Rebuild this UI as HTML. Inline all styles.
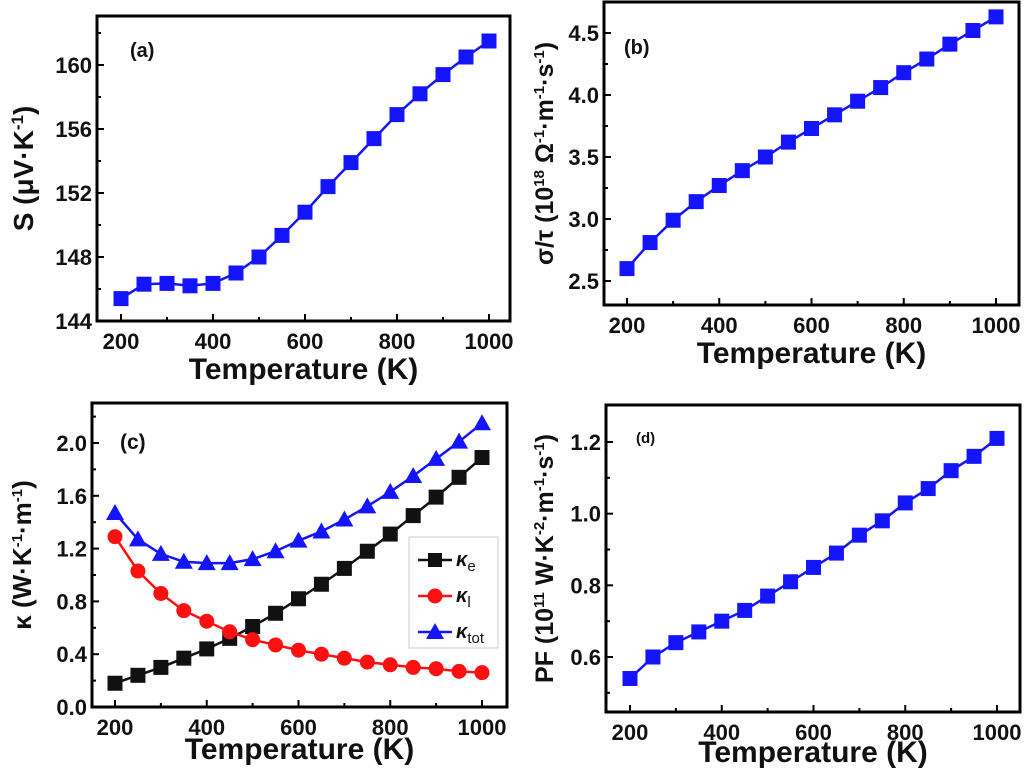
<!DOCTYPE html>
<html><head><meta charset="utf-8"><style>
html,body{margin:0;padding:0;background:#fff;}
svg text{font-family:"Liberation Sans",Arial,sans-serif;font-weight:bold;fill:#111;}
</style></head><body>
<svg id="fig" width="1024" height="771" viewBox="0 0 1024 771" xmlns="http://www.w3.org/2000/svg"></svg>
<script>
const temps=[200,250,300,350,400,450,500,550,600,650,700,750,800,850,900,950,1000];
const seebeck=[145.4,146.3,146.35,146.2,146.35,147.0,148.0,149.35,150.8,152.4,153.9,155.4,156.9,158.2,159.4,160.5,161.5];
const sigmaTau=[2.6,2.81,2.99,3.14,3.27,3.39,3.50,3.62,3.73,3.84,3.95,4.06,4.18,4.29,4.41,4.52,4.63];
const kappaE=[0.18,0.24,0.30,0.37,0.44,0.52,0.61,0.71,0.82,0.93,1.05,1.18,1.31,1.45,1.59,1.74,1.89];
const kappaL=[1.29,1.03,0.86,0.73,0.65,0.57,0.51,0.47,0.43,0.40,0.37,0.34,0.32,0.30,0.29,0.27,0.26];
const kappaTot=[1.47,1.27,1.16,1.10,1.09,1.09,1.12,1.18,1.26,1.33,1.42,1.52,1.63,1.75,1.88,2.01,2.15];
const powerFactor=[0.54,0.60,0.64,0.67,0.70,0.73,0.77,0.81,0.85,0.89,0.94,0.98,1.03,1.07,1.12,1.16,1.21];
const xTicks=[200,400,600,800,1000];
const aTicks=[144,148,152,156,160];
const bTicks=[2.5,3.0,3.5,4.0,4.5];
const cTicks=[0.0,0.4,0.8,1.2,1.6,2.0];
const dTicks=[0.6,0.8,1.0,1.2];

const NS="http://www.w3.org/2000/svg";
const svg=document.getElementById('fig');
function el(tag,attrs,parent){const e=document.createElementNS(NS,tag);for(const k in attrs)e.setAttribute(k,attrs[k]);(parent||svg).appendChild(e);return e;}

function panel(cfg){
  const g=el('g',{});
  
  
  const xs=v=>cfg.x200+(v-200)*(cfg.x1000-cfg.x200)/800;
  const ys=v=>cfg.yA+(v-cfg.vA)*(cfg.yB-cfg.yA)/(cfg.vB-cfg.vA);
  const fr=el('rect',{x:cfg.L,y:cfg.T,width:cfg.R-cfg.L,height:cfg.B-cfg.T,fill:'none',stroke:'#000','stroke-width':3},g);
  
  for(let v=200;v<=1000;v+=100){
    const major=v%200===0;const x=xs(v);
    el('line',{x1:x,x2:x,y1:cfg.B,y2:cfg.B-(major?7:4),stroke:'#000','stroke-width':2},g);
  }
  xTicks.forEach(v=>{
    const t=el('text',{x:xs(v),y:cfg.B+28,'text-anchor':'middle','font-size':22},g);
    t.textContent=v;
    
  });
  const step=cfg.ticks[1]-cfg.ticks[0];
  const lo=cfg.ticks[0]-step*5, hi=cfg.ticks[cfg.ticks.length-1]+step*5;
  for(let v=lo;v<=hi+1e-9;v+=step/2){
    const y=ys(v); if(y<cfg.T+2||y>cfg.B-1)continue;
    const major=cfg.ticks.some(t=>Math.abs(t-v)<1e-6);
    el('line',{x1:cfg.L,x2:cfg.L+(major?7:4),y1:y,y2:y,stroke:'#000','stroke-width':2},g);
  }
  cfg.ticks.forEach(v=>{
    const t=el('text',{x:cfg.L-5,y:ys(v)+8,'text-anchor':'end','font-size':22},g);
    t.textContent=cfg.fmt(v);
    
  });
  const xt=el('text',{x:(cfg.L+cfg.R)/2,y:cfg.B+cfg.xtOff,'text-anchor':'middle','font-size':30},g);
  xt.textContent='Temperature (K)';
  
  const yt=el('text',{transform:`translate(${cfg.ytx},${(cfg.T+cfg.B)/2}) rotate(-90)`,'text-anchor':'middle','font-size':cfg.ytSize||27},g);
  yt.innerHTML=cfg.ytitle;
  
  const lb=el('text',{x:cfg.L+cfg.lab[0],y:cfg.T+cfg.lab[1],'font-size':cfg.labSize||19},g);
  lb.textContent=cfg.label;
  
  cfg.series.forEach(s=>{
    const pts=temps.map((t,i)=>xs(t)+','+ys(s.vals[i])).join(' ');
    const pl=el('polyline',{points:pts,fill:'none',stroke:s.color,'stroke-width':2.5},g);
    
    temps.forEach((t,i)=>{
      const x=xs(t),y=ys(s.vals[i]);let m;
      if(s.marker==='sq')m=el('rect',{x:x-7.5,y:y-7.5,width:15,height:15,fill:s.color},g);
      else if(s.marker==='ci')m=el('circle',{cx:x,cy:y,r:7.5,fill:s.color},g);
      else m=el('polygon',{points:`${x},${y-9} ${x-9},${y+7} ${x+9},${y+7}`,fill:s.color},g);
      
    });
  });
  return {g,xs,ys};
}

panel({name:'panel-a-seebeck',L:97,R:510,T:16,B:321,x200:121,x1000:489,vA:148,yA:257,vB:160,yB:65,ticks:aTicks,fmt:v=>v,xtOff:58,
  ytx:33,ytSize:28,ytitle:'S (μV·K<tspan dy="-10" font-size="17">-1</tspan><tspan dy="10">)</tspan>',label:'(a)',lab:[33,41],labSize:20,
  series:[{name:'seebeck',vals:seebeck,color:'#1414ff',marker:'sq'}]});
panel({name:'panel-b-conductivity',L:604,R:1019,T:2,B:305,x200:627,x1000:996,vA:2.5,yA:281,vB:4.5,yB:33,ticks:bTicks,fmt:v=>v.toFixed(1),xtOff:58,
  ytx:553,ytSize:25,ytitle:'σ/τ (10<tspan dy="-9" font-size="15">18</tspan><tspan dy="9"> Ω</tspan><tspan dy="-9" font-size="15">-1</tspan><tspan dy="9">·m</tspan><tspan dy="-9" font-size="15">-1</tspan><tspan dy="9">·s</tspan><tspan dy="-9" font-size="15">-1</tspan><tspan dy="9">)</tspan>',label:'(b)',lab:[20,52],labSize:20,
  series:[{name:'sigma-tau',vals:sigmaTau,color:'#1414ff',marker:'sq'}]});
panel({name:'panel-c-thermal-conductivity',L:92,R:507,T:403,B:707,x200:115,x1000:482,vA:0,yA:707,vB:2.0,yB:443,ticks:cTicks,fmt:v=>v.toFixed(1),xtOff:52,
  ytx:31,ytSize:26,ytitle:'κ (W·K<tspan dy="-9" font-size="15">-1</tspan><tspan dy="9">·m</tspan><tspan dy="-9" font-size="15">-1</tspan><tspan dy="9">)</tspan>',label:'(c)',lab:[28,46],labSize:21,
  series:[{name:'kappa-e',vals:kappaE,color:'#111',marker:'sq'},{name:'kappa-l',vals:kappaL,color:'#ff1010',marker:'ci'},{name:'kappa-tot',vals:kappaTot,color:'#1414ff',marker:'tr'}]});
(function(){
  const lg=el('g',{});
  
  el('rect',{x:409,y:537,width:89,height:111,fill:'#fff',stroke:'#ccc','stroke-width':1},lg);
  const items=[['κ','e','#111','sq',560],['κ','l','#ff1010','ci',596],['κ','tot','#1414ff','tr',632]];
  items.forEach(it=>{
    const gi=el('g',{},lg);
    
    const y=it[4];
    el('line',{x1:418,x2:452,y1:y,y2:y,stroke:it[2],'stroke-width':2.5},gi);
    if(it[3]==='sq')el('rect',{x:428,y:y-7,width:14,height:14,fill:it[2]},gi);
    else if(it[3]==='ci')el('circle',{cx:435,cy:y,r:7.5,fill:it[2]},gi);
    else el('polygon',{points:`435,${y-9} 426,${y+7} 444,${y+7}`,fill:it[2]},gi);
    const t=el('text',{x:456,y:y+6,'font-size':20,'font-style':'italic','font-weight':'normal'},gi);
    t.innerHTML=`${it[0]}<tspan dy="5" font-size="15" font-style="normal" font-weight="normal">${it[1]}</tspan>`;
  });
})();
panel({name:'panel-d-power-factor',L:606,R:1020,T:405,B:712,x200:630,x1000:997,vA:0.6,yA:657,vB:1.2,yB:442,ticks:dTicks,fmt:v=>v.toFixed(1),xtOff:50,
  ytx:553,ytSize:25,ytitle:'PF (10<tspan dy="-9" font-size="15">11</tspan><tspan dy="9"> W·K</tspan><tspan dy="-9" font-size="15">-2</tspan><tspan dy="9">·m</tspan><tspan dy="-9" font-size="15">-1</tspan><tspan dy="9">·s</tspan><tspan dy="-9" font-size="15">-1</tspan><tspan dy="9">)</tspan>',label:'(d)',lab:[30,38],labSize:15,
  series:[{name:'power-factor',vals:powerFactor,color:'#1414ff',marker:'sq'}]});
</script>
</body></html>
